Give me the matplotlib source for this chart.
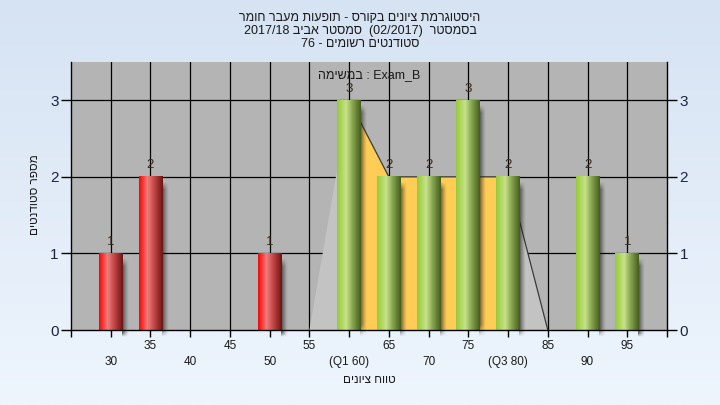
import re
import numpy as np
import matplotlib
matplotlib.use("Agg")
import matplotlib.pyplot as plt
from matplotlib.colors import LinearSegmentedColormap
from matplotlib.patches import Polygon

plt.rcParams['font.family'] = ['Liberation Sans', 'DejaVu Sans']

# ---------------------------------------------------------------- data
scores = [30, 35, 50, 60, 65, 70, 75, 80, 90, 95]
counts = [1, 2, 1, 3, 2, 2, 3, 2, 2, 1]
pass_mark = 55
poly_x = [55, 60, 65, 70, 75, 80, 85]
poly_y = [0, 3, 2, 2, 2, 2, 0]
q1, q3 = 60, 80
tick_vals = list(range(30, 100, 5))

title_lines = ["היסטוגרמת ציונים בקורס - תופעות מעבר חומר",
               "בסמסטר  (02/2017)  סמסטר אביב 2017/18",
               "סטודנטים רשומים - 76"]
subtitle = "Exam_B : במשימה"
ylabel = "מספר סטודנטים"
xlabel = "טווח ציונים"


def rtl(s):
    """crude visual ordering for right-to-left text (matplotlib has no bidi)."""
    r = s[::-1]
    r = re.sub(r"[A-Za-z0-9_/.]+", lambda m: m.group(0)[::-1], r)
    return r.translate(str.maketrans("()", ")("))


red_cm = LinearSegmentedColormap.from_list(
    "red", [(0, "#e01010"), (0.12, "#ff2a2a"), (0.35, "#f07c7c"),
            (0.65, "#c04444"), (1, "#6e1414")])
green_cm = LinearSegmentedColormap.from_list(
    "green", [(0, "#98c840"), (0.15, "#a8d454"), (0.38, "#c8e28c"),
              (0.65, "#88a650"), (1, "#465e1e")])

fig = plt.figure(figsize=(7.2, 4.05), dpi=100)

# page background gradient
bg = fig.add_axes([0, 0, 1, 1], zorder=-10)
bg.imshow(np.linspace(0, 1, 256)[:, None], aspect="auto", extent=[0, 1, 0, 1],
          cmap=LinearSegmentedColormap.from_list("bg", ["#d6e3f3", "#eef5fd"]))
bg.axis("off")

ax = fig.add_axes([71 / 720, 75 / 405, 596 / 720, 268 / 405])
ax.set_facecolor("#b4b4b4")

# grid
for v in range(30, 100, 5):
    ax.axvline(v, color="black", lw=0.9, zorder=1)
for v in (1, 2, 3):
    ax.axhline(v, color="black", lw=0.9, zorder=1)

# frequency polygon, Q1..Q3 in yellow
ax.add_patch(Polygon(list(zip(poly_x, poly_y)), closed=True, fc="#c3c3c3", ec="none", zorder=2))
px = np.array(poly_x)
py = np.array(poly_y)
m = (px >= q1) & (px <= q3)
yl = list(zip(px[m], py[m])) + [(q3, 0), (q1, 0)]
ax.add_patch(Polygon(yl, closed=True, fc="#ffcc55", ec="none", zorder=2.1))
ax.plot(px[px >= q1], py[px >= q1], color="#3a3a3a", lw=0.9, zorder=2.2)


def soft_shadow(c):
    # alpha map of a blurred shadow: fades to the right, at the top and at the bottom
    nx, ny = 40, 120
    sx = np.linspace(0, 1, nx)
    ax_prof = np.clip(1.0 - sx, 0, 1) ** 1.3
    top = 0.1 / max(c, 0.1)
    sy = np.linspace(0, 1, ny)  # 0 = top row of image
    ay_prof = np.clip(sy / top, 0, 1) * np.clip((1 - sy) / 0.05, 0, 1)
    a = 0.75 * ay_prof[:, None] * ax_prof[None, :]
    img = np.zeros((ny, nx, 4))
    img[..., :3] = 0.13
    img[..., 3] = a
    return img


# bars
w = 3.0
for s, c in zip(scores, counts):
    x0, x1 = s - w / 2, s + w / 2
    sh = ax.imshow(soft_shadow(c), aspect="auto", extent=[x1 - 0.1, x1 + 0.75, -0.09, c - 0.06],
                   zorder=3, interpolation="bilinear")
    sh.set_clip_on(False)
    cm = red_cm if s < pass_mark else green_cm
    ax.imshow(np.linspace(0, 1, 64)[None, :], cmap=cm, aspect="auto",
              extent=[x0, x1, 0, c], zorder=4, interpolation="bilinear")
    ax.text(s, c + 0.07, str(c), ha="center", va="bottom", fontsize=9.5,
            color="#3a2a18", zorder=5)
ax.set_xlim(25, 100)
ax.set_ylim(0, 3.5)

# axes styling
ax.spines["top"].set_visible(False)
for side in ("left", "right", "bottom"):
    ax.spines[side].set_color("black")
    ax.spines[side].set_linewidth(1.0)
    ax.spines[side].set_zorder(6)

ax.set_yticks([0, 1, 2, 3])
ax.tick_params(axis="y", left=True, right=True, labelleft=True, labelright=True,
               length=7, width=1, color="black", labelsize=11, labelcolor="#1c2440", pad=2)
ax.set_xticks(range(25, 101, 5))
ax.set_xticklabels([])
ax.tick_params(axis="x", length=5, width=1, color="black")

for v in tick_vals:
    lab = str(v)
    if v == q1:
        lab = "(Q1 %d)" % v
    elif v == q3:
        lab = "(Q3 %d)" % v
    off = -32 if v % 10 == 0 else -16
    ax.annotate(lab, xy=(v, 0), xycoords=("data", "axes fraction"), xytext=(0, off),
                textcoords="offset pixels", ha="center", va="center", fontsize=8.5,
                color="#1a1a1a", annotation_clip=False)

ax.text(0.5, 0.95, rtl(subtitle), transform=ax.transAxes, ha="center", va="center",
        fontsize=9, color="#1a1a1a", zorder=6)

fig.text(35 / 720, 1 - 195 / 405, rtl(ylabel), rotation=90, ha="center", va="center",
         fontsize=8.5, color="#1a1a1a")
fig.text(369 / 720, 1 - 380 / 405, rtl(xlabel), ha="center", va="center",
         fontsize=8.5, color="#1a1a1a")
for i, line in enumerate(title_lines):
    fig.text(360 / 720, 1 - (18 + 13 * i) / 405, rtl(line), ha="center", va="center",
             fontsize=9, color="#1a1a1a")

fig.savefig("out.png", dpi=100)
